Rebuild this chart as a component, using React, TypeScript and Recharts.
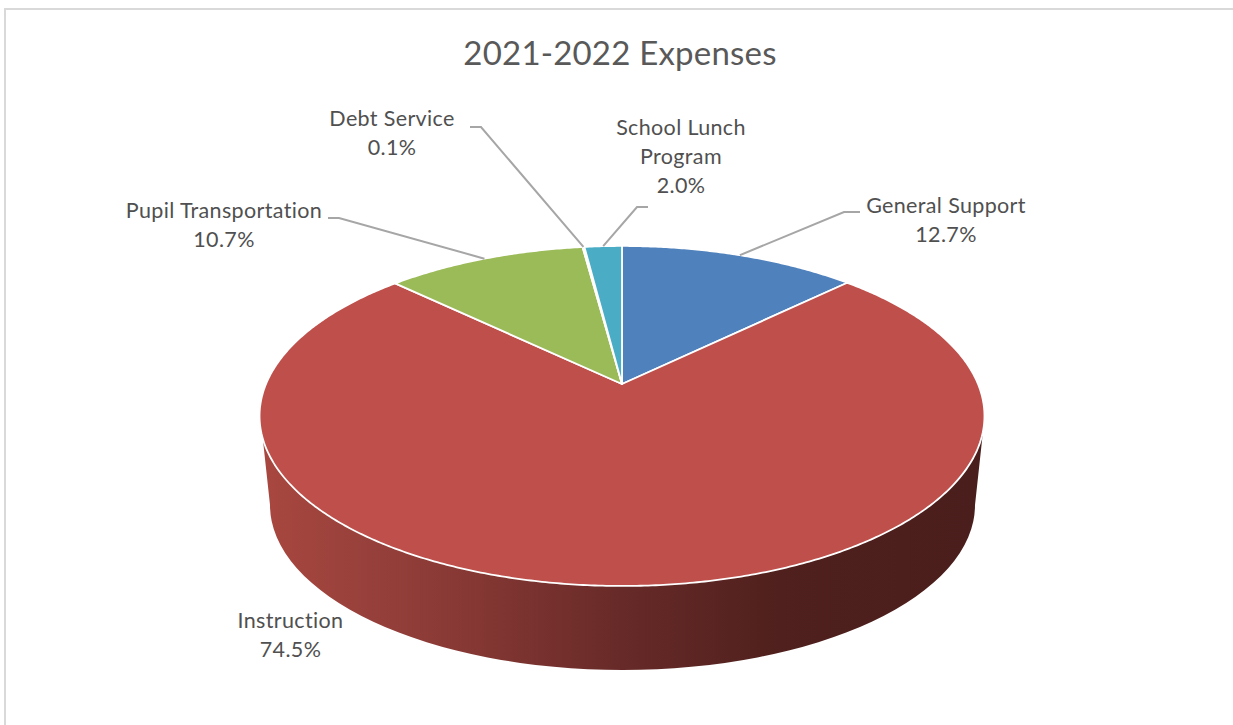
import React from "react";
import { PieChart, Pie } from "recharts";

const CATEGORIES = ["General Support", "Instruction", "Pupil Transportation", "Debt Service", "School Lunch Program"];
const EXPENSE_SHARES = [12.7, 74.5, 10.7, 0.1, 2.0];
const COLORS = ["#4F81BD", "#BE4F4B", "#9BBB59", "#8064A2", "#4BACC6"];
const TITLE = "2021-2022 Expenses";

const data = CATEGORIES.map((name, i) => ({ name, value: EXPENSE_SHARES[i], fill: COLORS[i] }));

// Label layout, by category index: wrapped lines, centre x, first baseline, leader elbow and end.
const LABELS = [
  { lines: ["General Support"], x: 946, y: 213, elbow: [844, 212], end: [860, 212] },
  { lines: ["Instruction"], x: 290.5, y: 628, elbow: null, end: null },
  { lines: ["Pupil Transportation"], x: 224, y: 218, elbow: [339, 218], end: [328, 218] },
  { lines: ["Debt Service"], x: 392, y: 126, elbow: [481, 127], end: [470, 127] },
  { lines: ["School Lunch", "Program"], x: 681, y: 135, elbow: [637, 207], end: [648, 207] },
];

// Perspective of the disc: the pie centre projects to (CX, CY).
const CX = 622;
const CY = 384;
const K = 0.188;
const A = 356;
const B = 164;
const project = (angle: number) => {
  const t = ((90 - angle) * Math.PI) / 180;
  const d = 1 + K * Math.cos(t);
  return [CX + (A * Math.sin(t)) / d, CY - (B * Math.cos(t)) / d];
};

const FONT = "Lato, 'Open Sans', sans-serif";

const Slice = (props: any) => {
  const { startAngle, endAngle, fill } = props;
  const pts: string[] = [];
  const n = Math.max(2, Math.ceil(Math.abs(endAngle - startAngle) * 2));
  for (let i = 0; i <= n; i++) {
    const [x, y] = project(startAngle + ((endAngle - startAngle) * i) / n);
    pts.push(`${x.toFixed(2)} ${y.toFixed(2)}`);
  }
  const top = `M${CX} ${CY} L${pts.join(" L")} Z`;
  const tStart = 90 - startAngle;
  const tEnd = 90 - endAngle;
  const hasWall = tStart < 100 && tEnd > 260;
  return (
    <g>
      {hasWall && (
        <path
          d="M262.5 436 L270 505 A352.5 165 0 0 0 975 505 L982.5 436 Z"
          fill="url(#wallGradient)"
        />
      )}
      <path d={top} fill={fill} stroke="#FFFFFF" strokeWidth={1.8} strokeLinejoin="round" />
    </g>
  );
};

const SliceLabel = (props: any) => {
  const { index, midAngle, value } = props;
  const l = LABELS[index];
  const [ax, ay] = project(midAngle);
  const lineH = 29;
  return (
    <g>
      {l.elbow && (
        <polyline
          points={`${ax},${ay} ${l.elbow[0]},${l.elbow[1]} ${l.end![0]},${l.end![1]}`}
          fill="none"
          stroke="#A6A6A6"
          strokeWidth={2}
        />
      )}
      <text x={l.x} y={l.y} textAnchor="middle" fontFamily={FONT} fontSize={21.5} fill="#505050" style={{ letterSpacing: 0.35 }}>
        {l.lines.map((s, i) => (
          <tspan key={i} x={l.x} y={l.y + i * lineH}>{s}</tspan>
        ))}
        <tspan x={l.x} y={l.y + l.lines.length * lineH}>{`${Number(value).toFixed(1)}%`}</tspan>
      </text>
    </g>
  );
};

export default function App() {
  return (
    <div style={{ position: "absolute", left: 0, top: 0, width: 1233, height: 725, background: "#FFFFFF", overflow: "hidden", fontFamily: FONT }}>
      <div style={{ position: "absolute", left: 4, top: 8, right: -4, bottom: -4, borderLeft: "2px solid #D9D9D9", borderTop: "2px solid #D9D9D9" }} />
      <PieChart width={1233} height={725} margin={{ top: 0, right: 0, bottom: 0, left: 0 }} style={{ position: "absolute", left: 0, top: 0 }}>
        <defs>
          <linearGradient id="wallGradient" gradientUnits="userSpaceOnUse" x1={262} y1={0} x2={983} y2={0}>
            <stop offset="0" stopColor="#A8473F" />
            <stop offset="0.15" stopColor="#97403B" />
            <stop offset="0.3" stopColor="#843733" />
            <stop offset="0.5" stopColor="#672A28" />
            <stop offset="0.72" stopColor="#4F201D" />
            <stop offset="1" stopColor="#4A1E1C" />
          </linearGradient>
        </defs>
        <text x={620} y={65} textAnchor="middle" fontFamily={FONT} fontSize={33} fill="#595959" style={{ letterSpacing: 0.2 }}>
          {TITLE}
        </text>
        <Pie
          data={data}
          dataKey="value"
          nameKey="name"
          cx={CX}
          cy={CY}
          innerRadius={0}
          outerRadius={138}
          startAngle={90}
          endAngle={-270}
          paddingAngle={0}
          shape={Slice}
          label={SliceLabel}
          labelLine={false}
          isAnimationActive={false}
        />
      </PieChart>
    </div>
  );
}
